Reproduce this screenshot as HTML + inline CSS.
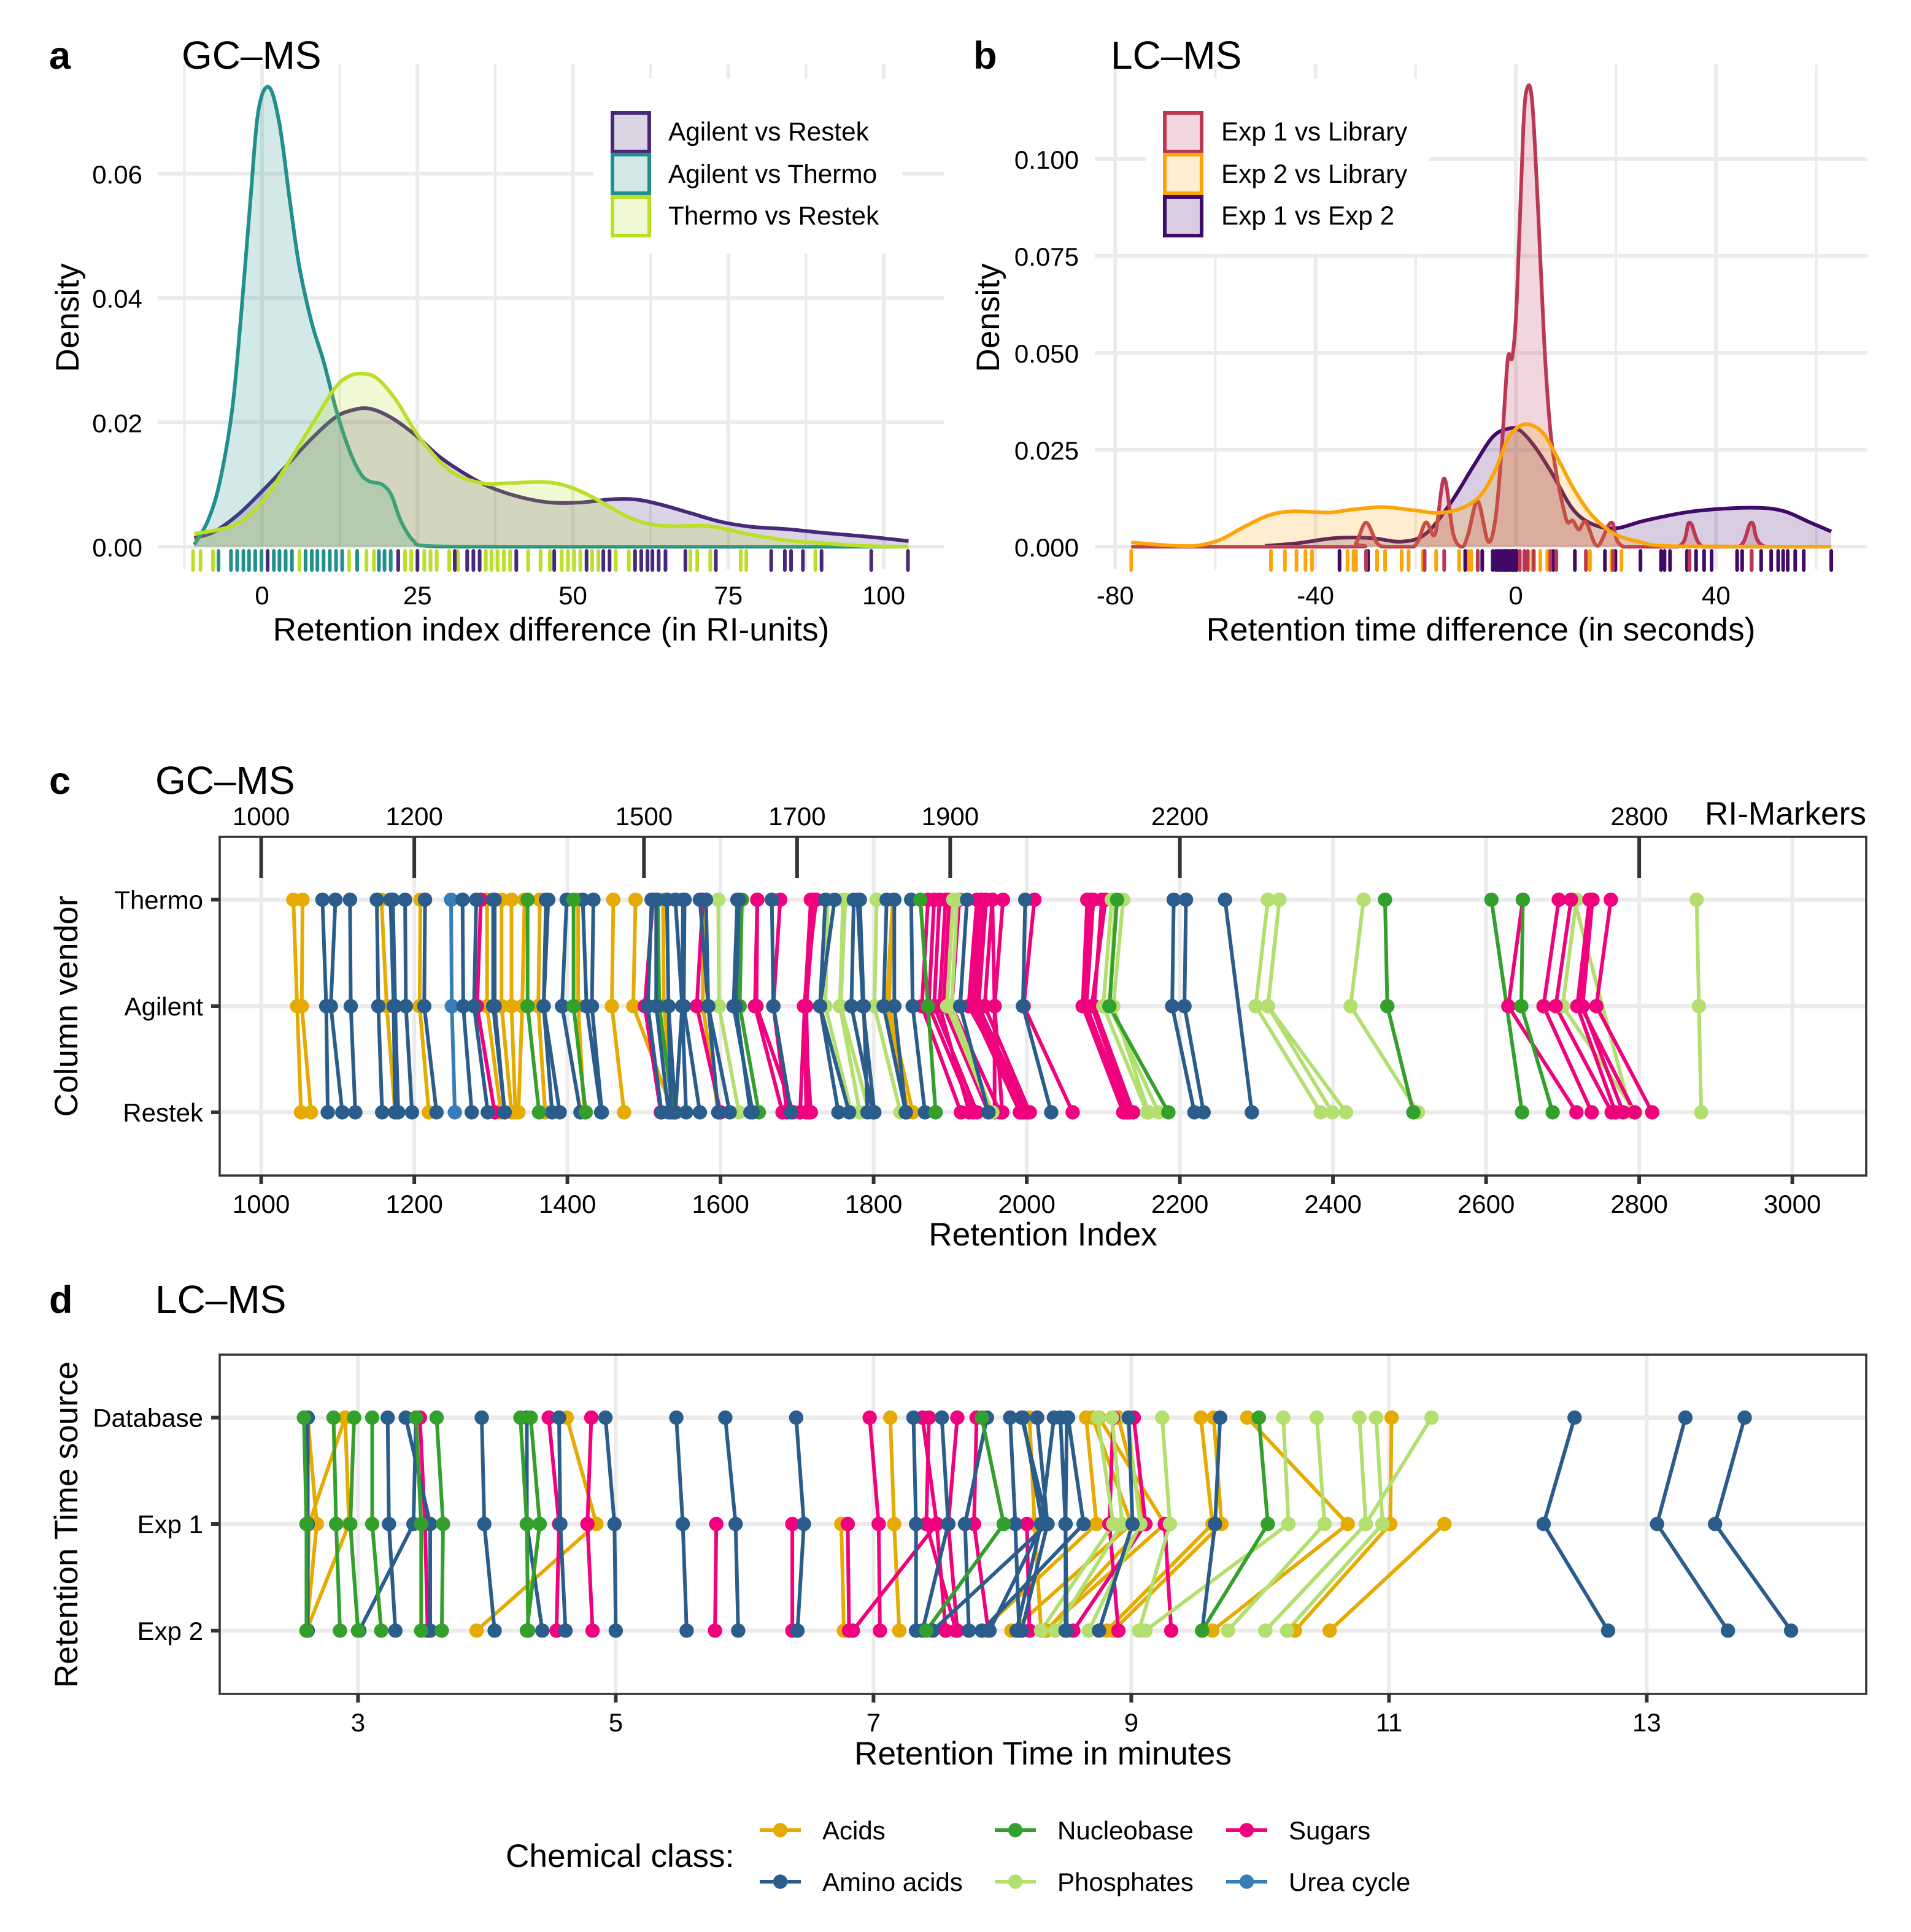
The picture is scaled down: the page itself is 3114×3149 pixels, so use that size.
<!DOCTYPE html>
<html lang="en">
<head>
<meta charset="utf-8">
<title>Retention index and retention time comparison</title>
<style>
html,body{margin:0;padding:0;background:#fff;}
svg{display:block;}
text{font-family:"Liberation Sans",Arial,sans-serif;fill:#000;}
</style>
</head>
<body>
<svg id="fig" xmlns="http://www.w3.org/2000/svg" width="3114" height="3149" viewBox="0 0 3114 3149">
<rect x="0" y="0" width="3114" height="3149" fill="#ffffff"/>
<g id="layerA"></g>
<g id="layerB"></g>
<g id="layerC"></g>
<g id="layerD"></g>

<text x="80" y="112" font-size="63" font-weight="bold">a</text>
<text x="296" y="112" font-size="64">GC–MS</text>
<text x="898" y="1044" font-size="53.2" text-anchor="middle">Retention index difference (in RI-units)</text>
<text transform="translate(128,518) rotate(-90)" font-size="53.2" text-anchor="middle">Density</text>
<g font-size="42.3">
<text x="1089" y="229">Agilent vs Restek</text>
<text x="1089" y="298">Agilent vs Thermo</text>
<text x="1089" y="366">Thermo vs Restek</text>
</g>

<text x="1586" y="112" font-size="63" font-weight="bold">b</text>
<text x="1810" y="112" font-size="64">LC–MS</text>
<text x="2413" y="1044" font-size="53.2" text-anchor="middle">Retention time difference (in seconds)</text>
<text transform="translate(1628,518) rotate(-90)" font-size="53.2" text-anchor="middle">Density</text>
<g font-size="42.3">
<text x="1990" y="229">Exp 1 vs Library</text>
<text x="1990" y="298">Exp 2 vs Library</text>
<text x="1990" y="366">Exp 1 vs Exp 2</text>
</g>

<text x="80" y="1294" font-size="63" font-weight="bold">c</text>
<text x="253" y="1294" font-size="64">GC–MS</text>
<text x="3041" y="1344" font-size="53.2" text-anchor="end">RI-Markers</text>
<text x="1699.5" y="2030" font-size="53.2" text-anchor="middle">Retention Index</text>
<text transform="translate(126,1640) rotate(-90)" font-size="53.2" text-anchor="middle">Column vendor</text>

<text x="80" y="2140" font-size="63" font-weight="bold">d</text>
<text x="253" y="2140" font-size="64">LC–MS</text>
<text x="1699.5" y="2876" font-size="53.2" text-anchor="middle">Retention Time in minutes</text>
<text transform="translate(126,2485) rotate(-90)" font-size="53.2" text-anchor="middle">Retention Time source</text>

<g id="classLegend">
<text x="824" y="3043" font-size="53.2">Chemical class:</text>
</g>
</svg>

<script>
/* ---------- Panel a data ---------- */
const aRestekX = [-10.9,-7.7,-3.8,0.1,4,7.9,11.8,14.7,17.3,20.7,24.6,28.5,32.5,36.4,41.4,46.3,51.2,56.1,60,64,68.9,73.8,78.7,84.6,90.5,97.4,104];
const aRestekY = [.0014,.0024,.0052,.0090,.0131,.0173,.0208,.0220,.0222,.0208,.0180,.0145,.0118,.0097,.0080,.0071,.0071,.0076,.0076,.0068,.0054,.0040,.0032,.0028,.0022,.0016,.0009];
const aThermoX = [-10.9,-8.7,-6.8,-4.8,-3.3,-1.9,-0.6,1.1,2.8,4.5,6.0,8.0,9.9,11.9,13.9,15.8,17.3,19.3,20.8,22.3,24.3,26.8,40,104];
const aThermoY = [.0003,.0042,.0104,.0221,.0381,.0554,.0700,.0739,.0680,.0554,.0450,.0360,.0298,.0221,.0159,.0118,.0105,.0100,.0083,.0042,.0010,.0001,0,0];
const aTvRX = [-10.9,-7.7,-3.8,0.1,4,7.9,11.8,14.2,16.4,18.6,21.6,25.5,30.4,35.4,39.3,45.3,49.2,53.1,58,62,66,71.9,77.8,83.6,89.5,97.3,104];
const aTvRY = [.0021,.0026,.0038,.0073,.0131,.0194,.0256,.0275,.0278,.0270,.0235,.0173,.0121,.0102,.0102,.0104,.0097,.0080,.0052,.0037,.0033,.0033,.0021,.0011,.0006,.0001,0];
const aRugRestek = [.9,21.9,25,31,33,34,35,40.9,47,52.2,54.9,55.9,60,61,62,62.8,63.8,64.9,68.1,73,81.9,84.1,85.1,87,90,98,103.9];
const aRugThermo = [-7,-5,-4,-3,-2.1,-1.1,-.1,1.9,2.8,3.8,4.8,7,8,8.9,9.9,10.9,11.9,12.9,15.3,18.8,19.7,20.7];
const aRugTvR = [-11.1,-9.9,-7.9,6,14,16.8,18,23,24,26.1,27.1,28.1,30.1,31.5,36,36.9,37.9,38.9,39.9,42.8,44.8,46.3,48.2,49.2,50.2,51.2,53.1,54.1,56.9,59,68.9,70,72.1,77,77.9,89];
const aXMajor = [0,25,50,75,100];
const aXMinor = [-12.5,12.5,37.5,62.5,87.5];
const aYMajor = [0,0.02,0.04,0.06];
const aYLabels = ["0.00","0.02","0.04","0.06"];

/* ---------- Panel b data ---------- */
const bE1LibX = [-76.8,-33.7,-31.9,-29.9,-27.7,-25.9,-20.4,-18,-16.1,-14.3,-12.5,-10.7,-9.5,-7.6,-5.5,-4,-2.8,-1.6,-.7,.2,1.5,2.3,3.3,4.5,5.7,6.9,8.1,9.3,10.3,11.4,12.6,14,16.3,19.1,21.5,32.4,34.7,37.3,44.6,47.1,49.8,63];
const bE1LibY = [0,0,.0009,.0062,.0009,0,0,.0062,.0033,.0176,.0033,0,.0033,.0117,.0013,.0078,.0256,.0483,.0489,.0633,.1078,.1183,.1144,.0856,.0522,.03,.0189,.0111,.0064,.0067,.0044,.0064,.0002,.0062,0,0,.0062,0,0,.0062,0,0];
const bE2LibX = [-76.8,-70.2,-64.1,-59.2,-54.4,-49.5,-44.7,-37.4,-32.5,-26.5,-20.4,-15.5,-10.7,-7,-4,-1.6,.8,3,5.7,8.8,11.8,15.4,19.7,24.6,31.8,63];
const bE2LibY = [.0011,.0004,.0002,.0017,.005,.008,.0091,.0088,.0096,.0102,.0094,.0087,.01,.0133,.02,.0278,.0311,.0314,.0289,.0217,.0144,.0078,.0033,.0013,.0001,0];
const bE1E2X = [-50.1,-43.5,-36.2,-28.9,-22.8,-18,-13.1,-8.3,-4.6,-1.6,.8,3.9,7.5,11.2,14.8,19.7,25.7,34.2,41.5,48.8,53.7,58.5,63];
const bE1E2Y = [.0002,.0009,.0022,.0022,.0013,.0033,.0111,.0211,.0283,.0304,.03,.0256,.0183,.01,.0061,.0047,.0067,.0089,.0098,.01,.0091,.0064,.0039];
const bRugE2Lib = [-76.8,-48.9,-46.1,-43.8,-42,-40.7,-33.6,-32.4,-31.9,-27.7,-26.1,-22.8,-21.4,-18.6,-15.9,-11.3,-9.5,-8.9,-1.6,3.3,4.9,6.3,14.8,19.1,21.1];
const bRugE1E2 = [-35.2,-29.5,-10.1,-7.6,-6.7,-4.6,-4,-3.6,-3.2,-2.8,-2.4,-2.2,-1.9,-1.5,-1.1,-.7,-.4,-.1,.2,7.5,11.8,17.8,19.9,24.9,29,29.7,30.8,34.2,36,37.6,39.1,44.2,45.2,47.1,49,51,52.4,53.4,54.3,55.8,57.5,63];
const bRugE1Lib = [-29.9,-18.2,-14.3,-7.6,.8,1.7,2.4,3.6,6.9,8.1,14,19.4,34.7,47.1];
const bXMajor = [-80,-40,0,40];
const bXMinor = [-60,-20,20,60];
const bYMajor = [0,0.025,0.05,0.075,0.1];
const bYLabels = ["0.000","0.025","0.050","0.075","0.100"];

/* ---------- Panel c data: [Thermo, Agilent, Restek] ---------- */
const gcAcids = [[1042,1047,1052],[1054,1053,1065],[1157,1164,1175],[1208,1207,1219],[1295,1295,1313],[1314,1314,1327],[1327,1327,1332],[1344,1341,1336],[1364,1362,1371],[1414,1414,1422],[1460,1458,1474],[1489,1486,1538],[1525,1526,1540],[1577,1577,1597],[1825,1820,1851],[1825,1817,1845]];
const gcUrea = [[1248,1249,1253]];
const gcNucleobaseLow = [[1518,1520,1538],[1628,1625,1650]];
const gcSugars = [[1287,1282,1305],[1512,1501,1522],[1577,1569,1600],[1648,1645,1681],[1648,1647,1695],[1678,1669,1687],[1720,1710,1712],[1723,1712,1715],[1718,1710,1704],[1725,1709,1718],[1871,1863,1914],[1879,1872,1930],[1886,1879,1935],[1894,1886,1925],[1899,1891,1950],[1912,1902,1965],[1935,1924,2001],[1940,1927,1991],[1945,1935,1996],[1947,1937,2001],[1955,1945,2004],[1942,1930,1993],[1955,1958,1958],[1969,1958,1968],[2010,1996,2060],[2079,2073,2126],[2087,2078,2131],[2098,2088,2139],[2103,2085,2134],[2083,2075,2129]];
const gcPhosphates = [[1597,1598,1624],[1740,1737,1771],[1760,1756,1782],[1763,1757,1794],[1804,1801,1835],[1904,1896,1953],[1909,1902,1955],[2111,2100,2157],[2116,2108,2172],[2126,2113,2159],[2315,2299,2384],[2330,2315,2399],[2330,2315,2417],[2440,2423,2511],[2718,2700,2795],[2715,null,2789],[2875,2878,2881]];
const gcSugarsLate = [[2648,2629,2718],[2695,2675,2738],[2711,2691,2764],[2735,2719,2769],[2739,2726,2779],[2763,2744,2817],[2736,2724,2794]];
const gcNucleobase = [[1348,1348,1363],[1408,1408,1424],[1861,1871,1881],[2118,2108,2185],[2468,2471,2505],[2607,null,2647],[2648,2646,2687]];
const gcAmino = [[1080,1085,1087],[1097,1091,1106],[1116,1117,1123],[1151,1153,1158],[1169,1173,1175],[1172,1175,1179],[1188,1189,1197],[1214,1213,1229],[1263,1264,1275],[1281,1278,1296],[1303,1303,1318],[1305,1305,1318],[1375,1369,1390],[1372,1369,1380],[1399,1393,1417],[1420,1425,1444],[1434,1432,1445],[1510,1505,1523],[1516,1516,1532],[1530,1532,1541],[1530,1532,1535],[1541,1550,1555],[1551,1550,1541],[1553,1552,1573],[1573,1584,1597],[1581,1584,1612],[1622,1617,1642],[1624,1620,1639],[1667,1669,1692],[1737,1730,1754],[1749,1730,1768],[1774,1771,1799],[1779,1786,1801],[1782,1787,1792],[1817,1813,1842],[1827,1827,1842],[1849,1851,1867],[1922,1913,1950],[1998,1995,2032],[2192,2190,2219],[2208,2206,2231],[2259,null,2294]];
const gcRows = ["Thermo","Agilent","Restek"];
const cXTicks = [1000,1200,1400,1600,1800,2000,2200,2400,2600,2800,3000];
const riMarkers = [1000,1200,1500,1700,1900,2200,2800];

/* ---------- Panel d data: [Database, Exp 1, Exp 2] ---------- */
const lcAcids = [[2.61,2.68,2.60],[2.90,2.62,2.60],[2.90,2.93,2.60],[4.62,4.85,3.92],[null,6.75,6.77],[7.13,7.16,7.20],[8.21,8.25,8.30],[8.65,8.73,7.84],[8.70,9.00,8.07],[8.75,9.26,8.33],[8.90,9.11,8.34],[9.54,9.63,8.81],[9.64,9.70,8.86],[9.90,10.68,9.63],[11.02,11.01,10.27],[null,11.43,10.54]];
const lcSugars = [[3.48,3.52,3.54],[4.48,4.56,4.54],[4.81,4.78,4.82],[null,5.78,5.77],[null,6.37,6.37],[null,6.80,6.81],[null,7.49,6.84],[6.97,7.04,7.05],[7.38,7.49,7.56],[7.43,7.41,7.64],[7.65,7.58,7.65],[7.80,7.78,7.89],[null,8.19,8.21],[8.86,8.83,8.90],[9.02,9.11,8.55],[null,9.26,9.31]];
const lcPhosphates = [[8.74,8.86,8.30],[8.85,8.93,8.41],[8.97,9.07,8.67],[9.24,9.30,9.06],[10.18,10.22,9.11],[10.44,10.50,9.75],[10.77,10.82,10.04],[11.33,10.82,10.04],[10.90,10.95,10.21]];
const lcAmino = [[2.61,2.61,2.61],[3.23,3.24,3.29],[3.37,3.56,3.56],[3.45,3.43,3.01],[3.96,3.98,4.06],[4.31,4.31,4.43],[4.56,4.57,4.61],[4.92,4.99,5.00],[5.47,5.52,5.55],[5.85,5.93,5.95],[6.40,6.46,6.41],[7.31,7.33,7.33],[7.53,7.58,7.38],[7.88,7.71,7.74],[8.06,8.10,8.13],[8.16,8.31,7.90],[8.15,8.35,7.46],[8.27,8.35,8.15],[8.40,8.30,8.11],[8.45,8.49,8.49],[8.50,8.49,8.50],[8.51,8.63,7.84],[8.98,9.01,8.75],[9.69,9.65,9.55],[12.44,12.2,12.7],[13.3,13.08,13.63],[13.76,13.53,14.12]];
const lcNucleobase = [[2.58,2.60,2.60],[2.81,2.83,2.86],[2.97,2.94,3.00],[3.11,3.11,3.18],[3.45,3.49,3.49],[3.61,3.66,3.65],[4.26,4.31,4.32],[4.34,4.41,4.31],[7.84,8.01,7.41],[9.99,10.06,9.55]];
const lcRows = ["Database","Exp 1","Exp 2"];
const dXTicks = [3,5,7,9,11,13];

/* ---------- Legend data ---------- */
const classNames = ["Acids","Amino acids","Nucleobase","Phosphates","Sugars","Urea cycle"];

/* ---------- Palette ---------- */
const colAcids="#E6AB02", colAmino="#2A5D8B", colNucleo="#33A02C", colPhos="#B2DF6E", colSugar="#F0027F", colUrea="#377EB8";
const classColors = [colAcids,colAmino,colNucleo,colPhos,colSugar,colUrea];
const GRID="#EBEBEB", AXIS="#333333";

/* ---------- Axis functions ---------- */
const xA = v => 427 + v*10.13;
const yA = v => 891 - v*10135;
const xB = v => 2470 + v*8.16;
const yB = v => 891 - v*6320;
const xC = v => 425.6 + (v-1000)*1.2475;
const xD = v => 583.4 + (v-3)*210;
const rowsC = [1466.4,1640,1813];
const rowsD = [2310.6,2484,2657.8];

const NS="http://www.w3.org/2000/svg";
function mk(tag,attrs,parent){
  const e=document.createElementNS(NS,tag);
  for(const k in attrs) e.setAttribute(k,attrs[k]);
  parent.appendChild(e);
  return e;
}
function seg(parent,x1,y1,x2,y2,stroke,w){
  return mk('line',{x1:x1,y1:y1,x2:x2,y2:y2,stroke:stroke,'stroke-width':w},parent);
}
function label(parent,x,y,txt,anchor){
  const t=mk('text',{x:x,y:y,'font-size':42,'text-anchor':anchor},parent);
  t.textContent=txt;
  return t;
}
function smooth(px,py,floorY){
  let d='M'+px[0].toFixed(1)+','+py[0].toFixed(1);
  for(let i=0;i<px.length-1;i++){
    const p0=i>0?i-1:i, p3=i+2<px.length?i+2:i+1;
    const c1x=px[i]+(px[i+1]-px[p0])/6, c2x=px[i+1]-(px[p3]-px[i])/6;
    const c1y=Math.min(py[i]+(py[i+1]-py[p0])/6,floorY), c2y=Math.min(py[i+1]-(py[p3]-py[i])/6,floorY);
    d+='C'+c1x.toFixed(1)+','+c1y.toFixed(1)+' '+c2x.toFixed(1)+','+c2y.toFixed(1)+' '+px[i+1].toFixed(1)+','+py[i+1].toFixed(1);
  }
  return d;
}

/* ---------- Density panels ---------- */
function densityFrame(root,xMaj,xMin,yMaj,yLabs,xf,yf,L,R,T,B,yAnchor,box){
  xMin.forEach(v=>{
    const g=seg(root,xf(v),T,xf(v),B,GRID,4);
    
    
  });
  xMaj.forEach(v=>{
    const g=seg(root,xf(v),T,xf(v),B,GRID,6);
    
    
    const t=label(root,xf(v),985,String(v),'middle');
    
    
  });
  yMaj.forEach((v,i)=>{
    const g=seg(root,L,yf(v),R,yf(v),GRID,6);
    
    
    const t=label(root,yAnchor,yf(v)+16,yLabs[i],'end');
    
    
  });
  const bg=mk('rect',{x:box[0],y:box[1],width:box[2],height:box[3],fill:'#fff'},root);
  
  
}
function density(root,xs,ys,xf,yf,color){
  const px=xs.map(xf), py=ys.map(yf), y0=yf(0);
  const line=smooth(px,py,y0);
  const f=mk('path',{d:line+'L'+px[px.length-1]+','+y0+'L'+px[0]+','+y0+'Z',fill:color,'fill-opacity':0.2,stroke:'none'},root);
  
  
  const s=mk('path',{d:line,fill:'none',stroke:color,'stroke-width':6},root);
  
  
}
function rug(root,vals,xf,color){
  vals.forEach(v=>{
    const r=mk('line',{x1:xf(v),y1:898,x2:xf(v),y2:929,stroke:color,'stroke-width':6,'stroke-linecap':'round'},root);
    
    
  });
}
function legendKey(root,x,y,color){
  const r=mk('rect',{x:x,y:y,width:60,height:63,fill:'#fff'},root);
  
  
  const k=mk('rect',{x:x,y:y,width:60,height:63,fill:color,'fill-opacity':0.2,stroke:color,'stroke-width':6},root);
  
  
}

const A=document.getElementById('layerA');
densityFrame(A,aXMajor,aXMinor,aYMajor,aYLabels,xA,yA,257,1539,105,928,232,[967,128,503,285]);
const cPurple="#482878", cTeal="#21908C", cLime="#BBDF27";
rug(A,aRugThermo,xA,cTeal);
rug(A,aRugTvR,xA,cLime);
rug(A,aRugRestek,xA,cPurple);
density(A,aRestekX,aRestekY,xA,yA,cPurple);
density(A,aThermoX,aThermoY,xA,yA,cTeal);
density(A,aTvRX,aTvRY,xA,yA,cLime);
legendKey(A,998,184,cPurple);
legendKey(A,998,252,cTeal);
legendKey(A,998,321,cLime);

const Bp=document.getElementById('layerB');
densityFrame(Bp,bXMajor,bXMinor,bYMajor,bYLabels,xB,yB,1784,3043,105,928,1758,[1867,128,462,285]);
const cRed="#BB3754", cOrange="#FCA50A", cDark="#420A68";
rug(Bp,bRugE2Lib,xB,cOrange);
rug(Bp,bRugE1E2,xB,cDark);
rug(Bp,bRugE1Lib,xB,cRed);
density(Bp,bE1E2X,bE1E2Y,xB,yB,cDark);
density(Bp,bE1LibX,bE1LibY,xB,yB,cRed);
density(Bp,bE2LibX,bE2LibY,xB,yB,cOrange);
legendKey(Bp,1898,184,cRed);
legendKey(Bp,1898,252,cOrange);
legendKey(Bp,1898,321,cDark);

/* ---------- Slope panels ---------- */
function slopeFrame(root,T,B,rows,rowNames,xTicks,xf,tickBase){
  const L=358,R=3041;
  xTicks.forEach(v=>{
    const g=seg(root,xf(v),T,xf(v),B,GRID,6);
    
    
    const k=seg(root,xf(v),B,xf(v),B+14,AXIS,6);
    
    
    const t=label(root,xf(v),tickBase,String(v),'middle');
    
    
  });
  rows.forEach((y,i)=>{
    const g=seg(root,L,y,R,y,GRID,6.7);
    
    
    const k=seg(root,L-14,y,L,y,AXIS,6);
    
    
    const t=label(root,331,y+15,rowNames[i],'end');
    
    
  });
}
function slopeBorder(root,T,B){
  const b=mk('rect',{x:358,y:T,width:2683,height:B-T,fill:'none',stroke:AXIS,'stroke-width':3.5},root);
  
  
}
function slopeLines(root,series,color,xf,rows){
  series.forEach(s=>{
    const pts=[];
    s.forEach((v,i)=>{ if(v!==null) pts.push(xf(v).toFixed(1)+','+rows[i]); });
    const p=mk('polyline',{points:pts.join(' '),fill:'none',stroke:color,'stroke-width':6},root);
    
    
  });
}
function slopePoints(root,series,color,xf,rows){
  series.forEach(s=>{
    s.forEach((v,i)=>{
      if(v===null) return;
      const c=mk('circle',{cx:xf(v).toFixed(1),cy:rows[i],r:11.7,fill:color},root);
      
      
    });
  });
}

const C=document.getElementById('layerC');
slopeFrame(C,1364,1916,rowsC,gcRows,cXTicks,xC,1977);
const gcLayers=[[gcAcids,colAcids],[gcUrea,colUrea],[gcNucleobaseLow,colNucleo],[gcSugars,colSugar],[gcPhosphates,colPhos],[gcSugarsLate,colSugar],[gcAmino,colAmino],[gcNucleobase,colNucleo]];
gcLayers.forEach(l=>slopeLines(C,l[0],l[1],xC,rowsC));
gcLayers.forEach(l=>slopePoints(C,l[0],l[1],xC,rowsC));
riMarkers.forEach(v=>{
  const m=seg(C,xC(v),1364,xC(v),1431,AXIS,6);
  
  
  const t=label(C,xC(v),1345,String(v),'middle');
  
  
});
slopeBorder(C,1364,1916);

const D=document.getElementById('layerD');
slopeFrame(D,2208,2761,rowsD,lcRows,dXTicks,xD,2822);
const lcLayers=[[lcAcids,colAcids],[lcSugars,colSugar],[lcPhosphates,colPhos],[lcAmino,colAmino],[lcNucleobase,colNucleo]];
lcLayers.forEach(l=>slopeLines(D,l[0],l[1],xD,rowsD));
lcLayers.forEach(l=>slopePoints(D,l[0],l[1],xD,rowsD));
slopeBorder(D,2208,2761);

/* ---------- Class legend ---------- */
const LG=document.getElementById('classLegend');
classNames.forEach((name,i)=>{
  const col=Math.floor(i/2), row=i%2;
  const x0=[1238,1621,1998][col], xt=[1340,1723,2100][col];
  const y=[2983,3067][row];
  const l=seg(LG,x0,y,x0+67,y,classColors[i],6);
  
  
  const c=mk('circle',{cx:x0+33.5,cy:y,r:11.7,fill:classColors[i]},LG);
  
  
  const t=label(LG,xt,y+15,name,'start');
  
  
});
</script>
</body>
</html>
